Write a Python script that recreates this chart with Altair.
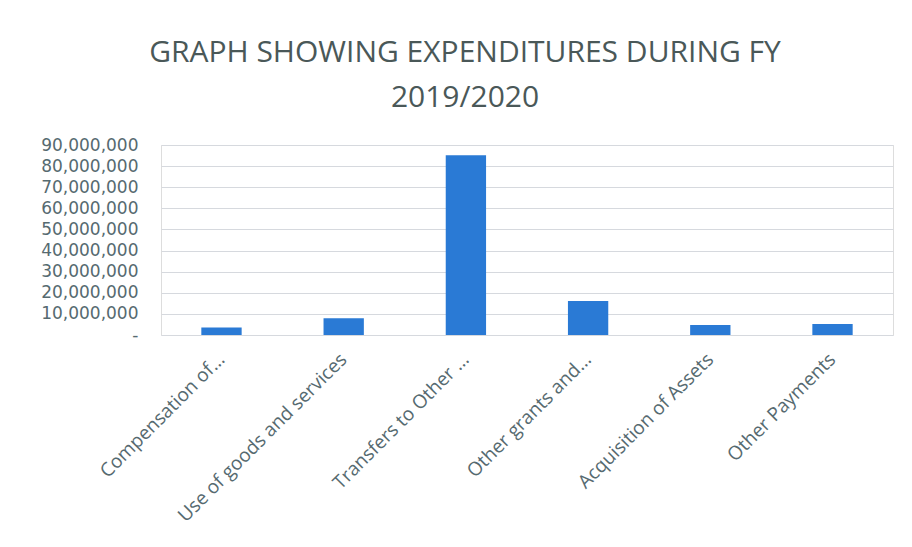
import altair as alt
import pandas as pd

categories = ["Compensation of...", "Use of goods and services", "Transfers to Other ...",
              "Other grants and...", "Acquisition of Assets", "Other Payments"]
values = [3500000, 7900000, 85100000, 16100000, 4700000, 5200000]

df = pd.DataFrame({"category": categories, "value": values})

label_color = "#566a70"

chart = alt.Chart(df).mark_bar(color="#2a7ad5").encode(
    x=alt.X("category:N", sort=categories, title=None,
            scale=alt.Scale(paddingInner=0.67, paddingOuter=0.33),
            axis=alt.Axis(labelAngle=-45, labelAlign="right", labelBaseline="middle",
                          labelFontSize=19, labelColor=label_color, labelFont="Open Sans",
                          ticks=False, domain=False, labelPadding=21, labelLimit=400)),
    y=alt.Y("value:Q", title=None,
            scale=alt.Scale(domain=[0, 90000000], nice=False),
            axis=alt.Axis(values=list(range(0, 90000001, 10000000)),
                          labelExpr="datum.value == 0 ? '-' : format(datum.value, ',')",
                          labelFontSize=17, labelColor=label_color, labelFont="DejaVu Sans",
                          ticks=False, domain=False, gridColor="#d6d9de", labelPadding=23)),
).properties(
    width=732, height=190,
    title=alt.TitleParams(["GRAPH SHOWING EXPENDITURES DURING FY", "2019/2020"],
                          fontSize=30, font="Open Sans", fontWeight="normal",
                          color="#4a5858", lineHeight=45, anchor="middle", dx=-62, offset=23),
    autosize=alt.AutoSizeParams(type="none"),
    padding={"left": 153, "top": 137, "right": 11, "bottom": 204},
).configure_view(stroke=None).configure(background="white")

chart.save("out.html", embed_options={"renderer": "svg", "actions": False})
